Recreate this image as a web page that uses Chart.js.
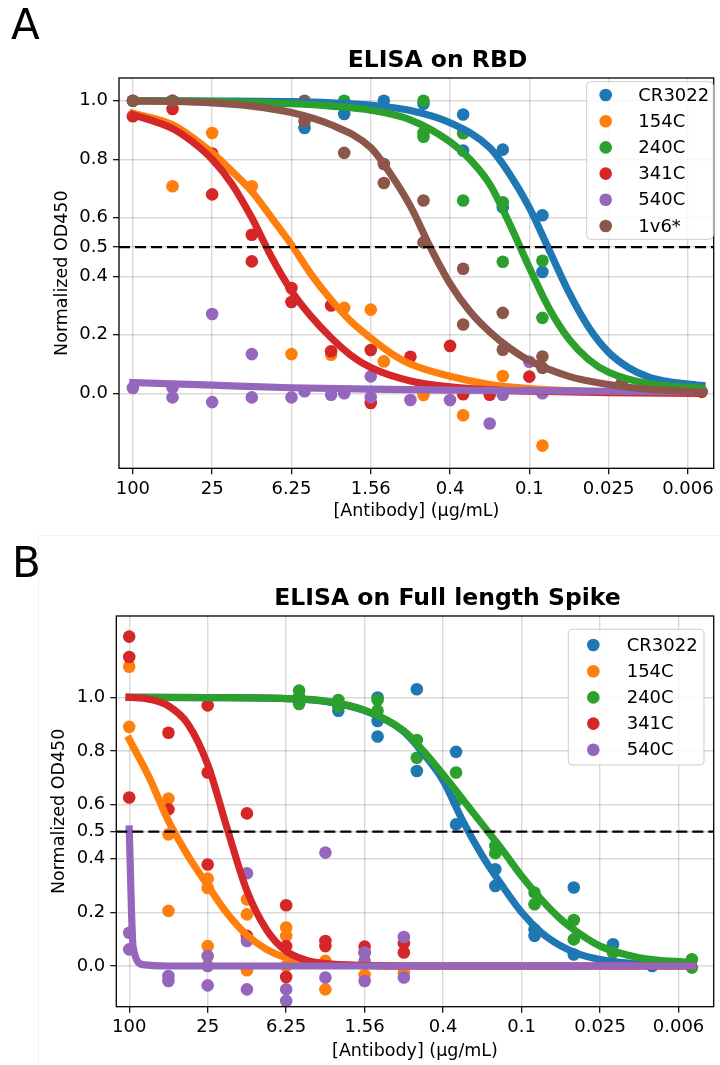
<!DOCTYPE html>
<html>
<head>
<meta charset="utf-8">
<script src="https://cdn.jsdelivr.net/npm/chart.js@4.4.1/dist/chart.umd.min.js"></script>
<style>
  body { margin: 0; background: #fff; width: 720px; height: 1065px; position: relative; overflow: hidden; }
  canvas { position: absolute; left: 0; }
  #chartA { top: 0; }
  #chartB { top: 535px; }
  #frameB { position: absolute; left: 38px; top: 535px; width: 700px; height: 540px;
            border-left: 1px solid #f0f0f0; border-top: 1px solid #f0f0f0; }
</style>
</head>
<body>
<div id="frameB"></div>
<canvas id="chartA" width="720" height="535"></canvas>
<canvas id="chartB" width="720" height="530"></canvas>
<script>
// x is counted in two-fold dilution steps from 100 ug/mL (step 2 = 25, step 4 = 6.25 ...)
const xTickSteps = [0, 2, 4, 6, 8, 10, 12, 14];
const xTickLabels = ['100', '25', '6.25', '1.56', '0.4', '0.1', '0.025', '0.006'];
const yTickVals = [0, 0.2, 0.4, 0.5, 0.6, 0.8, 1.0];

const antibodiesA = ['CR3022', '154C', '240C', '341C', '540C', '1v6*'];
const antibodiesB = ['CR3022', '154C', '240C', '341C', '540C'];
const tab10 = ['#1f77b4', '#ff7f0e', '#2ca02c', '#d62728', '#9467bd', '#8c564b'];

// ---- ELISA on RBD : measured points [step, OD]
const rbdPtsCR3022 = [[4.33,0.907],[5.33,0.955],[6.33,1.0],[7.33,0.99],[8.33,0.953],[8.33,0.83],[9.33,0.833],[9.33,0.636],[10.33,0.609],[10.33,0.415]];
const rbdPts154C = [[1,0.708],[2,0.89],[3,0.708],[4,0.134],[5,0.132],[5.33,0.292],[6,0.286],[6.33,0.109],[7.33,-0.006],[8.33,-0.075],[9.33,0.059],[10.33,-0.179]];
const rbdPts240C = [[5.33,1.0],[7.33,1.0],[7.33,0.89],[7.33,0.877],[8.33,0.889],[8.33,0.659],[9.33,0.653],[9.33,0.45],[10.33,0.453],[10.33,0.258]];
const rbdPts341C = [[0,1.0],[0,0.947],[1,1.0],[1,0.972],[2,0.82],[2,0.68],[3,0.542],[3,0.451],[4,0.36],[4,0.312],[5,0.3],[5,0.144],[6,0.148],[6,-0.033],[7,0.125],[8,0.162],[8.33,-0.003],[9,-0.005],[10,0.057]];
const rbdPts540C = [[0,0.018],[1,0.02],[1,-0.014],[2,0.271],[2,-0.03],[3,0.134],[3,-0.014],[4,-0.014],[4.33,0.007],[5,-0.005],[5.33,0.0],[6,0.058],[6,-0.013],[7,-0.023],[8,-0.023],[9,-0.103],[9.33,-0.005],[10,0.108],[10.33,0.0]];
const rbdPts1v6 = [[0,1.0],[1,1.0],[4.33,1.0],[4.33,0.93],[5.33,0.822],[6.33,0.784],[6.33,0.719],[7.33,0.659],[7.33,0.516],[8.33,0.426],[8.33,0.235],[9.33,0.275],[9.33,0.149],[10.33,0.126],[10.33,0.087],[12.33,0.035],[14.35,0.005]];

// ---- ELISA on RBD : fitted curves
const rbdFitCR3022 = [[0,1.0],[2,0.999],[4,0.997],[5,0.993],[6,0.985],[7,0.967],[8,0.925],[9,0.84],[9.5,0.75],[10,0.635],[10.5,0.49],[11,0.345],[11.5,0.225],[12,0.14],[12.5,0.088],[13,0.056],[13.5,0.04],[14.35,0.027]];
const rbdFit154C = [[0,0.958],[1,0.918],[2,0.822],[2.5,0.759],[3,0.69],[3.5,0.6],[4,0.508],[4.5,0.406],[5,0.32],[5.5,0.246],[6,0.189],[6.5,0.138],[7,0.1],[8,0.058],[9,0.03],[10,0.016],[11,0.009],[12,0.005],[14.35,0.001]];
const rbdFit240C = [[0,1.0],[2,0.998],[4,0.99],[5,0.982],[6,0.968],[7,0.935],[8,0.86],[8.5,0.8],[9,0.715],[9.5,0.58],[10,0.43],[10.5,0.29],[11,0.185],[11.5,0.115],[12,0.072],[13,0.033],[14.35,0.018]];
const rbdFit341C = [[0,0.953],[1,0.905],[1.5,0.86],[2,0.8],[2.5,0.715],[3,0.6],[3.5,0.465],[4,0.35],[4.5,0.262],[5,0.19],[5.5,0.13],[6,0.088],[7,0.042],[8,0.022],[9,0.012],[10,0.007],[12,0.002],[14.35,0.0]];
const rbdFit540C = [[0,0.037],[2,0.028],[4,0.019],[6,0.014],[8,0.011],[10,0.009],[12,0.007],[14.35,0.005]];
const rbdFit1v6 = [[0,1.0],[1,0.998],[2,0.993],[3,0.982],[4,0.96],[5,0.918],[6,0.84],[6.5,0.75],[7,0.64],[7.5,0.5],[8,0.375],[8.5,0.28],[9,0.21],[9.5,0.155],[10,0.112],[11,0.058],[12,0.03],[13,0.014],[14.35,0.005]];

// ---- ELISA on Full length Spike : measured points [step, OD]
const spkPtsCR3022 = [[4.33,1.0],[5.33,0.95],[6.33,0.999],[6.33,0.912],[6.33,0.854],[7.33,1.03],[7.33,0.726],[8.33,0.797],[8.33,0.527],[9.33,0.36],[9.33,0.298],[10.33,0.136],[10.33,0.112],[11.33,0.292],[11.33,0.043],[12.33,0.081],[13.33,0.0]];
const spkPts154C = [[0,1.114],[0,0.89],[1,0.623],[1,0.49],[1,0.205],[2,0.325],[2,0.29],[2,0.074],[3,0.248],[3,0.192],[3,-0.016],[4,0.143],[4,0.112],[4,0.0],[5,0.019],[5,-0.087],[6,-0.033],[7,-0.025]];
const spkPts240C = [[4.33,1.025],[4.33,1.0],[4.33,0.975],[5.33,0.99],[5.33,0.966],[6.33,0.99],[6.33,0.95],[7.33,0.841],[7.33,0.775],[8.33,0.72],[8.33,0.614],[9.33,0.447],[9.33,0.42],[10.33,0.273],[10.33,0.23],[11.33,0.171],[11.33,0.099],[12.33,0.05],[14.34,0.025],[14.34,-0.006]];
const spkPts341C = [[0,1.226],[0,1.15],[0,0.627],[1,0.868],[1,0.583],[2,0.97],[2,0.72],[2,0.378],[3,0.568],[3,0.112],[4,0.226],[4,0.074],[4,-0.041],[5,0.093],[5,0.074],[6,0.072],[6,0.05],[7,0.085],[7,0.05]];
const spkPts540C = [[0,0.124],[0,0.062],[1,-0.037],[1,-0.056],[2,0.037],[2,0.0],[2,-0.072],[3,0.345],[3,0.093],[3,-0.087],[4,-0.087],[4,-0.13],[5,0.422],[5,-0.043],[6,0.05],[6,0.02],[6,-0.056],[7,0.108],[7,-0.043]];

// ---- ELISA on Full length Spike : fitted curves
const spkFitCR3022 = [[0,1.0],[2,0.999],[4,0.995],[5,0.985],[6,0.95],[7,0.872],[7.5,0.79],[8,0.69],[8.5,0.54],[9,0.41],[9.5,0.3],[10,0.2],[10.5,0.125],[11,0.075],[11.5,0.042],[12,0.024],[13,0.007],[14.36,0.001]];
const spkFit154C = [[0,0.844],[0.5,0.705],[1,0.54],[1.5,0.41],[2,0.3],[2.5,0.195],[3,0.115],[3.5,0.062],[4,0.03],[4.5,0.014],[5,0.006],[6,0.002],[7,0.0],[14.36,0.0]];
const spkFit240C = [[0,1.0],[2,0.999],[4,0.995],[5,0.986],[6,0.952],[7,0.875],[7.5,0.8],[8,0.713],[8.5,0.62],[9,0.527],[9.5,0.434],[10,0.335],[10.5,0.248],[11,0.174],[11.5,0.118],[12,0.074],[13,0.031],[14.36,0.012]];
const spkFit341C = [[0,1.0],[0.5,0.993],[1,0.968],[1.5,0.9],[2,0.75],[2.5,0.51],[3,0.28],[3.5,0.135],[4,0.055],[4.5,0.022],[5,0.009],[6,0.002],[7,0.0],[14.36,0.0]];
const spkFit540C = [[0,0.51],[0.1,0.07],[0.35,0.005],[1,0.0],[14.36,0.0]];

const FONT = 'DejaVu Sans';

function toXY(arr) {
    return arr.map(p => ({x: p[0], y: p[1]}));
}

function makeDatasets(names, pts, fits) {
    const ds = [];
    // scatter first (matplotlib collections sit under lines)
    names.forEach((name, i) => {
        ds.push({
            type: 'scatter', label: name, data: toXY(pts[i]),
            backgroundColor: tab10[i], borderWidth: 0,
            pointRadius: 6.3, pointHoverRadius: 6.3,
            order: 40 - i
        });
    });
    names.forEach((name, i) => {
        ds.push({
            type: 'line', label: name + ' fit', data: toXY(fits[i]),
            borderColor: tab10[i], borderWidth: 7.2, pointRadius: 0, fill: false,
            cubicInterpolationMode: 'monotone',
            borderCapStyle: 'square', borderJoinStyle: 'round',
            order: 20 - i
        });
    });
    return ds;
}

// dashed IC50 line, box, title, panel letter, legend
const panelDecor = {
    id: 'panelDecor',
    afterDatasetsDraw(chart, args, o) {
        const {ctx, chartArea: a} = chart;
        const yh = chart.scales.y.getPixelForValue(0.5);
        ctx.save();
        ctx.strokeStyle = '#000';
        ctx.lineWidth = 2.3;
        ctx.setLineDash([11, 5]);
        ctx.beginPath();
        ctx.moveTo(a.left, yh);
        ctx.lineTo(a.right, yh);
        ctx.stroke();
        ctx.setLineDash([]);
        ctx.lineWidth = 1.3;
        ctx.strokeRect(a.left, a.top, a.right - a.left, a.bottom - a.top);
        ctx.restore();
    },
    afterDraw(chart, args, o) {
        const ctx = chart.ctx;
        ctx.save();
        ctx.fillStyle = '#000';
        ctx.textAlign = 'left';
        ctx.textBaseline = 'alphabetic';
        ctx.font = '42px "' + FONT + '"';
        ctx.fillText(o.letter, o.letterX, o.letterY);
        ctx.textAlign = 'center';
        ctx.font = 'bold 23.5px "' + FONT + '"';
        ctx.fillText(o.title, o.titleX, o.titleY);

        // legend box
        const b = o.legend;
        ctx.beginPath();
        ctx.roundRect(b.x, b.y, b.w, b.h, 4);
        ctx.fillStyle = 'rgba(255,255,255,0.8)';
        ctx.fill();
        ctx.strokeStyle = '#cccccc';
        ctx.lineWidth = 1;
        ctx.stroke();
        ctx.font = '18px "' + FONT + '"';
        ctx.textAlign = 'left';
        ctx.textBaseline = 'middle';
        o.names.forEach((name, i) => {
            const yy = b.row0 + i * b.rowStep;
            ctx.beginPath();
            ctx.arc(b.markX, yy, 6.3, 0, Math.PI * 2);
            ctx.fillStyle = tab10[i];
            ctx.fill();
            ctx.fillStyle = '#000';
            ctx.fillText(name, b.textX, yy + 1);
        });
        ctx.restore();
    }
};

function buildChart(id, names, pts, fits, p) {
    const tickFont = {family: FONT, size: 18};
    const labFont = {family: FONT, size: 17.5};
    const grid = {color: 'rgba(0,0,0,0.15)', lineWidth: 1.4, tickLength: 6, tickColor: '#000', tickWidth: 1.2};
    return new Chart(document.getElementById(id), {
        type: 'scatter',
        data: {datasets: makeDatasets(names, pts, fits)},
        options: {
            responsive: false,
            animation: false,
            devicePixelRatio: 1,
            events: [],
            layout: {padding: {left: 0, top: p.top, right: p.right, bottom: 0}},
            plugins: {
                legend: {display: false},
                title: {display: false},
                tooltip: {enabled: false},
                panelDecor: p.decor
            },
            scales: {
                x: {
                    type: 'linear', min: p.xMin, max: p.xMax,
                    afterBuildTicks: s => { s.ticks = xTickSteps.map(v => ({value: v})); },
                    afterFit: s => { s.height = p.xHeight; },
                    ticks: {autoSkip: false, maxRotation: 0, padding: 4, color: '#000', font: tickFont,
                            callback: (v, i) => xTickLabels[i]},
                    grid: grid,
                    border: {display: false},
                    title: {display: true, text: '[Antibody] (µg/mL)', color: '#000', font: labFont,
                            padding: {top: 0, bottom: p.xTitlePad}}
                },
                y: {
                    type: 'linear', min: p.yMin, max: p.yMax,
                    afterBuildTicks: s => { s.ticks = yTickVals.map(v => ({value: v})); },
                    afterFit: s => { s.width = p.yWidth; },
                    ticks: {padding: 5, color: '#000', font: tickFont, callback: v => v.toFixed(1)},
                    grid: grid,
                    border: {display: false},
                    title: {display: true, text: 'Normalized OD450', color: '#000', font: labFont,
                            padding: {top: p.yTitlePad, bottom: 0}}
                }
            }
        },
        plugins: [panelDecor]
    });
}

Chart.register(panelDecor);

buildChart('chartA', antibodiesA,
    [rbdPtsCR3022, rbdPts154C, rbdPts240C, rbdPts341C, rbdPts540C, rbdPts1v6],
    [rbdFitCR3022, rbdFit154C, rbdFit240C, rbdFit341C, rbdFit540C, rbdFit1v6],
    {
        top: 78, right: 1, xHeight: 66.7, yWidth: 119,
        xMin: -0.35, xMax: 14.65, yMin: -0.2564, yMax: 1.078,
        xTitlePad: 13, yTitlePad: 51.5,
        decor: {
            letter: 'A', letterX: 11, letterY: 39,
            title: 'ELISA on RBD', titleX: 437.5, titleY: 67,
            names: antibodiesA,
            legend: {x: 586.7, y: 81.7, w: 126.6, h: 157.6, markX: 605.7, textX: 638.3, row0: 95, rowStep: 26.2}
        }
    });

buildChart('chartB', antibodiesB,
    [spkPtsCR3022, spkPts154C, spkPts240C, spkPts341C, spkPts540C],
    [spkFitCR3022, spkFit154C, spkFit240C, spkFit341C, spkFit540C],
    {
        top: 81, right: 2.3, xHeight: 58.3, yWidth: 116.3,
        xMin: -0.329, xMax: 14.896, yMin: -0.1515, yMax: 1.3026,
        xTitlePad: 3, yTitlePad: 49,
        decor: {
            letter: 'B', letterX: 12, letterY: 42,
            title: 'ELISA on Full length Spike', titleX: 447.5, titleY: 70,
            names: antibodiesB,
            legend: {x: 568.3, y: 94.3, w: 135.7, h: 135.7, markX: 593.3, textX: 626.7, row0: 110, rowStep: 26.2}
        }
    });
</script>
</body>
</html>
